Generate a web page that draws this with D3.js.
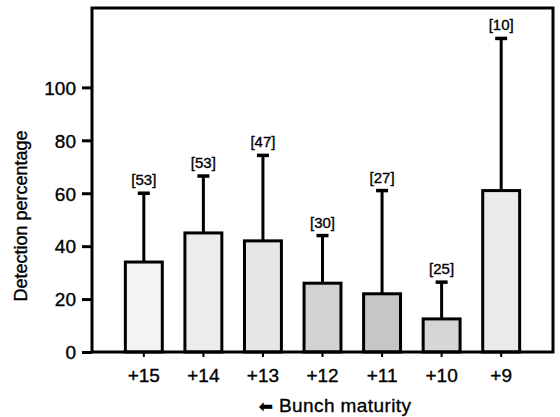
<!DOCTYPE html>
<html>
<head>
<meta charset="utf-8">
<script src="https://cdn.jsdelivr.net/npm/d3@7"></script>
<style>
  body { margin: 0; background: #fff; }
  text { font-family: "Liberation Sans", Arial, sans-serif; fill: #000; stroke: #000; stroke-width: 0.35px; }
</style>
</head>
<body>
<div id="chart"></div>
<script>
// data
var stages = ['+15', '+14', '+13', '+12', '+11', '+10', '+9'];
var detection = [34, 45, 42, 26, 22, 12.5, 61];
var upperError = [60, 66.5, 74.3, 44, 61, 26.4, 118.5];
var sampleSize = ['[53]', '[53]', '[47]', '[30]', '[27]', '[25]', '[10]'];
var yTicks = [0, 20, 40, 60, 80, 100];

var shades = ['#f3f3f3', '#ececec', '#e6e6e6', '#d2d2d2', '#c6c6c6', '#d6d6d6', '#eaeaea'];

var svgWidth = 560;
var svgHeight = 417;
var margin = {top: 8, right: 7, bottom: 65, left: 92};
var width = svgWidth - margin.left - margin.right;
var height = svgHeight - margin.top - margin.bottom;

var svg = d3.select('#chart')
            .append('svg')
            .attr('width', svgWidth)
            .attr('height', svgHeight);

var chartGroup = svg.append('g')
                    .attr('transform', `translate(${margin.left}, ${margin.top})`);

var data = stages.map(function(s, i) {
    return {stage: s, value: detection[i], upper: upperError[i], n: sampleSize[i], shade: shades[i]};
});

var xScale = d3.scaleBand()
               .domain(stages)
               .range([0, width])
               .paddingInner(0.38)
               .paddingOuter(0.56);

var yScale = d3.scaleLinear()
               .domain([0, 130])
               .range([height, 0]);

// y axis ticks
var leftAxis = d3.axisLeft(yScale).tickValues(yTicks).tickSize(10).tickPadding(6);
var yAxisG = chartGroup.append('g').call(leftAxis);
yAxisG.select('.domain').remove();
yAxisG.selectAll('line').attr('stroke', '#000').attr('stroke-width', 3);
yAxisG.selectAll('text').attr('font-size', '19px').attr('dy', '0.36em');

// x axis ticks
var bottomAxis = d3.axisBottom(xScale).tickSize(5).tickPadding(12);
var xAxisG = chartGroup.append('g')
                       .attr('transform', `translate(0, ${height})`)
                       .call(bottomAxis);
xAxisG.select('.domain').remove();
xAxisG.selectAll('line').attr('stroke', '#000').attr('stroke-width', 2);
xAxisG.selectAll('text').attr('font-size', '19px');

// error bars
chartGroup.selectAll('.err')
          .data(data)
          .enter()
          .append('line')
          .attr('x1', d => xScale(d.stage) + xScale.bandwidth() / 2)
          .attr('x2', d => xScale(d.stage) + xScale.bandwidth() / 2)
          .attr('y1', d => yScale(d.value))
          .attr('y2', d => yScale(d.upper))
          .attr('stroke', '#000')
          .attr('stroke-width', 3);

chartGroup.selectAll('.cap')
          .data(data)
          .enter()
          .append('line')
          .attr('x1', d => xScale(d.stage) + xScale.bandwidth() / 2 - 6)
          .attr('x2', d => xScale(d.stage) + xScale.bandwidth() / 2 + 6)
          .attr('y1', d => yScale(d.upper))
          .attr('y2', d => yScale(d.upper))
          .attr('stroke', '#000')
          .attr('stroke-width', 3.5);

// bars
chartGroup.selectAll('.bar')
          .data(data)
          .enter()
          .append('rect')
          .attr('x', d => xScale(d.stage))
          .attr('y', d => yScale(d.value))
          .attr('width', xScale.bandwidth())
          .attr('height', d => height - yScale(d.value))
          .attr('fill', d => d.shade)
          .attr('stroke', '#000')
          .attr('stroke-width', 3);

// sample size labels
chartGroup.selectAll('.nlabel')
          .data(data)
          .enter()
          .append('text')
          .attr('x', d => xScale(d.stage) + xScale.bandwidth() / 2)
          .attr('y', d => yScale(d.upper) - 8)
          .attr('text-anchor', 'middle')
          .attr('font-size', '15px')
          .text(d => d.n);

// frame
chartGroup.append('rect')
          .attr('x', 0)
          .attr('y', 0)
          .attr('width', width)
          .attr('height', height)
          .attr('fill', 'none')
          .attr('stroke', '#000')
          .attr('stroke-width', 3);

// axis titles
svg.append('text')
   .attr('transform', 'translate(27, 216) rotate(-90)')
   .attr('text-anchor', 'middle')
   .attr('font-size', '18px')
   .text('Detection percentage');

var xTitle = svg.append('text')
   .attr('x', 335)
   .attr('y', 412)
   .attr('text-anchor', 'middle')
   .attr('font-size', '19px')
   .attr('letter-spacing', '0.4px');
xTitle.append('tspan')
   .attr('font-family', '"DejaVu Sans", sans-serif')
   .attr('font-size', '17px')
   .text('\u2B05');
xTitle.append('tspan')
   .text(' Bunch maturity');
</script>
</body>
</html>
